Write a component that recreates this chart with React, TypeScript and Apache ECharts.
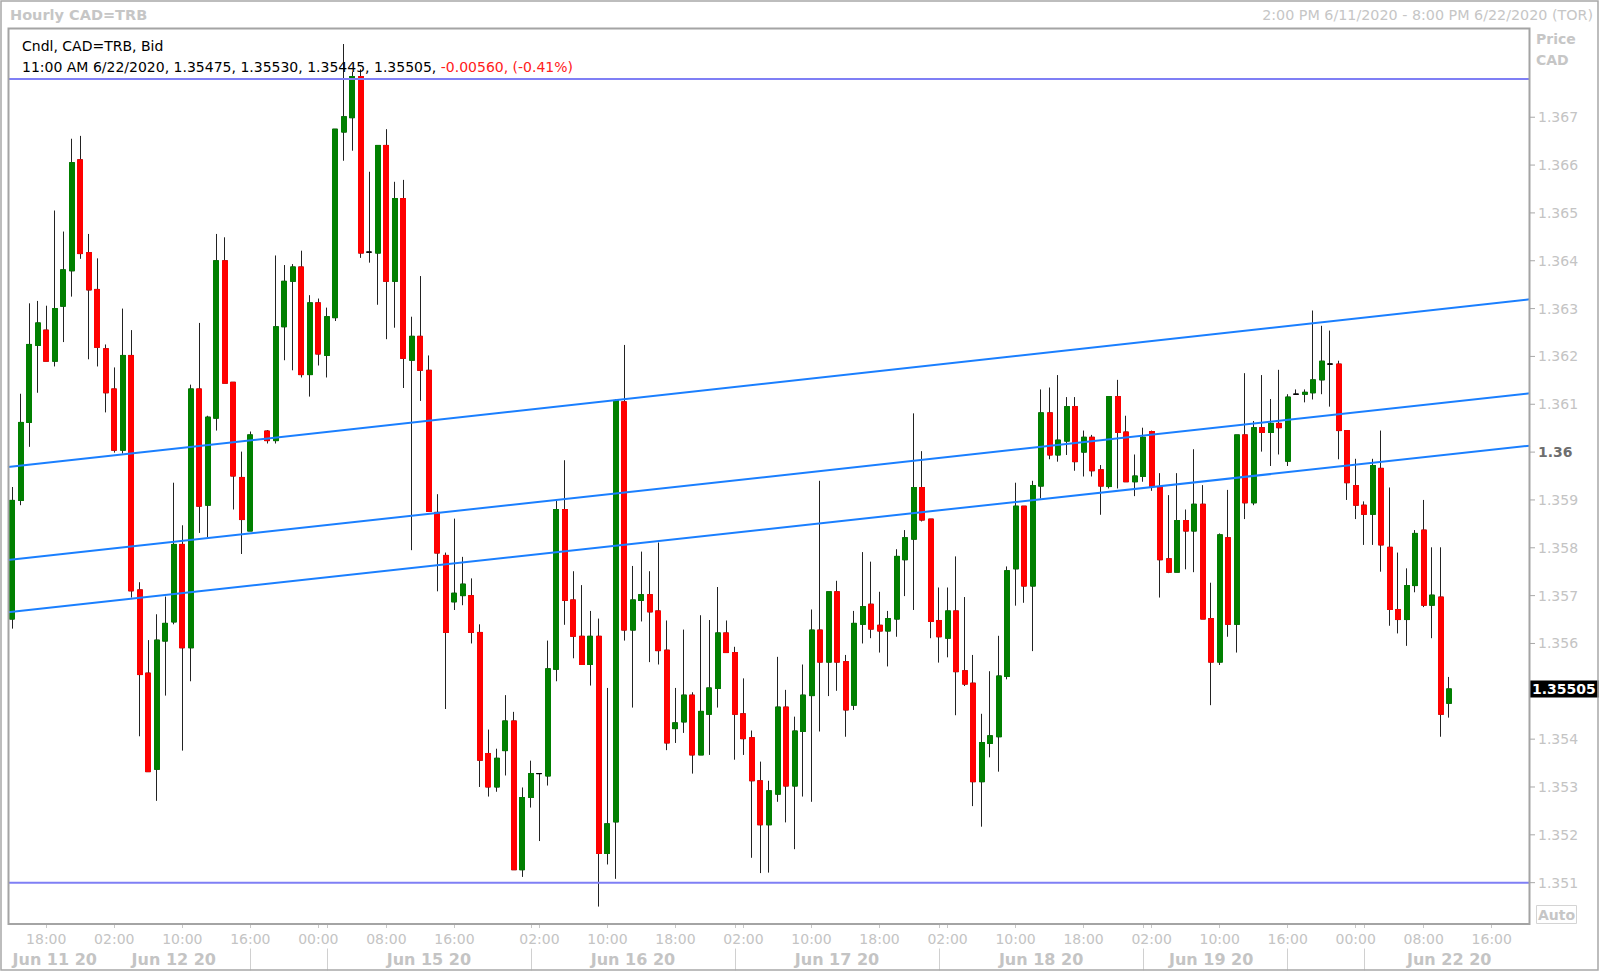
import React, { useEffect, useRef } from 'react';
import * as echarts from 'echarts';

const FONT = "'DejaVu Sans', Verdana, sans-serif";

// Hourly bars: [open, close, low, high]
const jun11Bars = [
  [1.35651, 1.35899, 1.35631, 1.35927],
  [1.35899, 1.36062, 1.35889, 1.36122],
  [1.36062, 1.36225, 1.36011, 1.36311],
  [1.36223, 1.3627, 1.36124, 1.36316],
  [1.36255, 1.3619, 1.3619, 1.36306],
  [1.3619, 1.363, 1.36179, 1.36505],
  [1.36305, 1.36381, 1.3623, 1.36461],
  [1.36379, 1.36605, 1.36325, 1.36655],
  [1.36611, 1.36415, 1.36404, 1.36661],
  [1.36417, 1.36339, 1.36194, 1.36456],
  [1.3634, 1.36219, 1.36179, 1.36405],
];
const jun12Bars = [
  [1.36216, 1.36124, 1.36083, 1.36225],
  [1.36132, 1.36004, 1.35999, 1.36177],
  [1.36004, 1.36202, 1.35997, 1.363],
  [1.36202, 1.3571, 1.35696, 1.36255],
  [1.35712, 1.35535, 1.35406, 1.35728],
  [1.35538, 1.35332, 1.35332, 1.35607],
  [1.35337, 1.35607, 1.35271, 1.35661],
  [1.35605, 1.35642, 1.35491, 1.35698],
  [1.35645, 1.35807, 1.3564, 1.35936],
  [1.35807, 1.35591, 1.35376, 1.35847],
  [1.35591, 1.36132, 1.35521, 1.36141],
  [1.36132, 1.35887, 1.35831, 1.3627],
  [1.35889, 1.36073, 1.35822, 1.36076],
  [1.36071, 1.364, 1.36045, 1.36456],
  [1.364, 1.36144, 1.36144, 1.36449],
  [1.36146, 1.3595, 1.3588, 1.36146],
  [1.35947, 1.35859, 1.35787, 1.36001],
  [1.35835, 1.36036, 1.35835, 1.36043],
];
const weekendGap = [null];
const jun14Bars = [
  [1.36044, 1.36024, 1.36018, 1.36046],
  [1.36024, 1.36262, 1.36018, 1.36411],
  [1.36262, 1.36357, 1.36192, 1.36391],
  [1.36357, 1.36387, 1.36171, 1.36393],
  [1.36387, 1.36162, 1.36156, 1.36421],
  [1.36162, 1.36312, 1.36116, 1.36328],
  [1.36312, 1.36205, 1.36181, 1.36321],
];
const jun15Bars = [
  [1.36202, 1.36283, 1.36156, 1.36302],
  [1.36281, 1.36675, 1.36274, 1.36675],
  [1.36669, 1.36701, 1.36609, 1.36853],
  [1.36699, 1.36785, 1.3663, 1.36795],
  [1.36785, 1.36416, 1.36406, 1.368],
  [1.36418, 1.36418, 1.36396, 1.36586],
  [1.36416, 1.36641, 1.36308, 1.36641],
  [1.36641, 1.36357, 1.36236, 1.36675],
  [1.36357, 1.3653, 1.3626, 1.36565],
  [1.3653, 1.36196, 1.36134, 1.36569],
  [1.36192, 1.36242, 1.35795, 1.36283],
  [1.36242, 1.36171, 1.36107, 1.36368],
  [1.36171, 1.35876, 1.35876, 1.36202],
  [1.35874, 1.35789, 1.35709, 1.35912],
  [1.35784, 1.35623, 1.35463, 1.3579],
  [1.35687, 1.35705, 1.3567, 1.35861],
  [1.357, 1.35724, 1.3568, 1.35781],
  [1.357, 1.35623, 1.356, 1.35736],
  [1.35623, 1.35356, 1.353, 1.3564],
  [1.3537, 1.353, 1.3528, 1.3542],
  [1.353, 1.3536, 1.3529, 1.3538],
  [1.35376, 1.35438, 1.35324, 1.35492],
  [1.35438, 1.35127, 1.35127, 1.35457],
  [1.35127, 1.35278, 1.35112, 1.35299],
];
const jun16Bars = [
  [1.35278, 1.35328, 1.35257, 1.35355],
  [1.35328, 1.35328, 1.35187, 1.35328],
  [1.35323, 1.35547, 1.35303, 1.35606],
  [1.35546, 1.3588, 1.35521, 1.35898],
  [1.3588, 1.3569, 1.35639, 1.35983],
  [1.35691, 1.35615, 1.35569, 1.35751],
  [1.35615, 1.35556, 1.35556, 1.35722],
  [1.35556, 1.35615, 1.35512, 1.35668],
  [1.35615, 1.35161, 1.3505, 1.35652],
  [1.35161, 1.35223, 1.35138, 1.35507],
  [1.35227, 1.36108, 1.35108, 1.3611],
  [1.36105, 1.35628, 1.35606, 1.36224],
  [1.35628, 1.35691, 1.35466, 1.35762],
  [1.3569, 1.35702, 1.35646, 1.35792],
  [1.35702, 1.35666, 1.35561, 1.35751],
  [1.35668, 1.35585, 1.35556, 1.35811],
  [1.35586, 1.35392, 1.35377, 1.35648],
  [1.35422, 1.35434, 1.35392, 1.35507],
  [1.35436, 1.35492, 1.35413, 1.35629],
  [1.35492, 1.35367, 1.35328, 1.35498],
  [1.35367, 1.35458, 1.35367, 1.35659],
  [1.35452, 1.35507, 1.35367, 1.35649],
  [1.35506, 1.35622, 1.35466, 1.35718],
  [1.35622, 1.35581, 1.35581, 1.35648],
];
const jun17Bars = [
  [1.35581, 1.35452, 1.35357, 1.35593],
  [1.35453, 1.35401, 1.35367, 1.35527],
  [1.35403, 1.35313, 1.35152, 1.35418],
  [1.35313, 1.35221, 1.3512, 1.35353],
  [1.35221, 1.35292, 1.35121, 1.35313],
  [1.35285, 1.35467, 1.35269, 1.35572],
  [1.35467, 1.35302, 1.35226, 1.35503],
  [1.35302, 1.35417, 1.3517, 1.35447],
  [1.35416, 1.35492, 1.3528, 1.35556],
  [1.35491, 1.35628, 1.35269, 1.35671],
  [1.35628, 1.35561, 1.35416, 1.3594],
  [1.35561, 1.35708, 1.3549, 1.35708],
  [1.35708, 1.35561, 1.35501, 1.35731],
  [1.35562, 1.35461, 1.35405, 1.35576],
  [1.35471, 1.35642, 1.35461, 1.35668],
  [1.3564, 1.35677, 1.356, 1.35791],
  [1.35682, 1.3563, 1.35611, 1.35771],
  [1.35638, 1.35626, 1.35581, 1.35708],
  [1.35626, 1.35652, 1.35552, 1.35668],
  [1.35651, 1.35782, 1.35614, 1.35797],
  [1.35775, 1.35821, 1.35699, 1.35837],
  [1.35818, 1.35926, 1.3567, 1.36081],
  [1.35926, 1.35858, 1.35855, 1.36002],
  [1.3586, 1.35646, 1.35611, 1.3586],
];
const jun18Bars = [
  [1.35648, 1.35614, 1.3556, 1.35717],
  [1.35611, 1.35668, 1.35571, 1.35717],
  [1.35668, 1.35541, 1.3545, 1.35782],
  [1.35543, 1.35515, 1.35511, 1.35697],
  [1.35517, 1.35311, 1.3526, 1.35576],
  [1.35311, 1.35393, 1.35217, 1.35453],
  [1.35391, 1.35407, 1.35362, 1.35542],
  [1.35405, 1.35532, 1.35332, 1.35616],
  [1.35531, 1.35752, 1.35525, 1.35761],
  [1.35756, 1.35887, 1.35679, 1.35936],
  [1.35887, 1.3572, 1.35685, 1.35887],
  [1.3572, 1.3593, 1.35584, 1.3594],
  [1.35929, 1.36082, 1.35903, 1.36131],
  [1.36082, 1.35994, 1.35985, 1.36135],
  [1.35994, 1.36025, 1.3598, 1.36161],
  [1.36023, 1.36095, 1.35994, 1.36115],
  [1.36095, 1.3598, 1.35961, 1.36115],
  [1.36, 1.36031, 1.35949, 1.36045],
  [1.36031, 1.35961, 1.35949, 1.36036],
  [1.35963, 1.35929, 1.35869, 1.35973],
  [1.35928, 1.36116, 1.35924, 1.36116],
  [1.36116, 1.36041, 1.35924, 1.36151],
  [1.36042, 1.35938, 1.35938, 1.36076],
  [1.35938, 1.3595, 1.35908, 1.35995],
];
const jun19Bars = [
  [1.35949, 1.36031, 1.35938, 1.36051],
  [1.36043, 1.35928, 1.35919, 1.36045],
  [1.35928, 1.35775, 1.35696, 1.35956],
  [1.35777, 1.35749, 1.35747, 1.3591],
  [1.35749, 1.35857, 1.35749, 1.35956],
  [1.35857, 1.35835, 1.35755, 1.3588],
  [1.35835, 1.35891, 1.35749, 1.36006],
  [1.35891, 1.35651, 1.35651, 1.35931],
  [1.35652, 1.35561, 1.35471, 1.35727],
  [1.35561, 1.35827, 1.35555, 1.3583],
  [1.35821, 1.3564, 1.35614, 1.35921],
  [1.3564, 1.36036, 1.35581, 1.36036],
  [1.36036, 1.35894, 1.3586, 1.36165],
  [1.35894, 1.36051, 1.35889, 1.36065],
  [1.36051, 1.36041, 1.36001, 1.36161],
  [1.36041, 1.3606, 1.35971, 1.36111],
  [1.3606, 1.36051, 1.35995, 1.36172],
];
const jun21Bars = [
  [1.35981, 1.36115, 1.35971, 1.36121],
  [1.36121, 1.36121, 1.36121, 1.36131],
  [1.36121, 1.36125, 1.36104, 1.36131],
  [1.36124, 1.36151, 1.3611, 1.36296],
  [1.36151, 1.3619, 1.36121, 1.36264],
  [1.36184, 1.36184, 1.36095, 1.36254],
  [1.36184, 1.36045, 1.35985, 1.36191],
  [1.36045, 1.35936, 1.359, 1.36045],
  [1.3593, 1.35889, 1.3586, 1.35986],
];
const jun22Bars = [
  [1.35889, 1.3587, 1.35806, 1.35897],
  [1.3587, 1.35972, 1.35806, 1.35986],
  [1.35966, 1.35806, 1.3575, 1.36045],
  [1.35801, 1.35671, 1.35637, 1.35926],
  [1.35671, 1.3565, 1.35621, 1.3579],
  [1.3565, 1.35721, 1.35595, 1.35757],
  [1.35721, 1.3583, 1.35707, 1.35837],
  [1.35837, 1.3568, 1.35676, 1.359],
  [1.3568, 1.35701, 1.35611, 1.35801],
  [1.35697, 1.35452, 1.35405, 1.35801],
  [1.35475, 1.35505, 1.35445, 1.3553],
];

// axis slots (hourly, 2:00 PM 6/11 .. 8:00 PM 6/22)
const slotCount = 179;
const timeLabelIdx = [4, 12, 20, 28, 36, 44, 52, 62, 70, 78, 86, 94, 102, 110, 118, 126, 134, 142, 150, 158, 166, 174];
const timeLabels = ['18:00', '02:00', '10:00', '16:00', '00:00', '08:00', '16:00', '02:00', '10:00', '18:00', '02:00', '10:00', '18:00', '02:00', '10:00', '18:00', '02:00', '10:00', '16:00', '00:00', '08:00', '16:00'];
const dateLabelIdx = [5, 19, 49, 73, 97, 121, 141, 169];
const dateLabels = ['Jun 11 20', 'Jun 12 20', 'Jun 15 20', 'Jun 16 20', 'Jun 17 20', 'Jun 18 20', 'Jun 19 20', 'Jun 22 20'];
const daySeparatorIdx = [28, 37, 61, 85, 109, 133, 150, 159];

// drawn lines: price at left edge, price at right edge
const trendUpper = [1.359687, 1.363194];
const trendMiddle = [1.357745, 1.36123];
const trendLower = [1.356654, 1.360135];
const resistanceLevel = 1.3678;
const supportLevel = 1.351;

// header
const lastBarTime = '11:00 AM 6/22/2020';
const netChange = '-0.00560';
const pctChange = '(-0.41%)';
const rangeText = '2:00 PM 6/11/2020 - 8:00 PM 6/22/2020 (TOR)';

const yMin = 1.35;
const yMax = 1.369;

export default function App() {
  const ref = useRef<HTMLDivElement>(null);

  useEffect(() => {
    if (!ref.current) return;
    const chart = echarts.init(ref.current, undefined, { renderer: 'svg' });

    const bars: (number[] | null)[] = [
      ...jun11Bars, ...jun12Bars, ...weekendGap, ...jun14Bars, ...jun15Bars,
      ...jun16Bars, ...jun17Bars, ...jun18Bars, ...jun19Bars, ...jun21Bars, ...jun22Bars,
    ];
    const categories = Array.from({ length: slotCount }, (_, i) => String(i));
    const empty = ['-', '-', '-', '-'];
    const wickData = bars.map((b) => (b ? b : empty));
    const bodyData = bars.map((b) => (b ? [b[0], b[1], Math.min(b[0], b[1]), Math.max(b[0], b[1])] : empty));
    const last = jun22Bars[jun22Bars.length - 1];
    const lastClose = last[1];

    const timeMap = new Map<number, string>();
    timeLabelIdx.forEach((i, k) => timeMap.set(i, timeLabels[k]));
    const dateMap = new Map<number, string>();
    dateLabelIdx.forEach((i, k) => dateMap.set(i, dateLabels[k]));
    const smallTicks = new Set<number>([...timeLabelIdx, ...daySeparatorIdx]);
    const sepSet = new Set<number>(daySeparatorIdx);

    const edge = [-0.5, slotCount - 0.5];
    const lineSeries = (vals: number[], color: string) => ({
      type: 'line',
      xAxisIndex: 2,
      yAxisIndex: 0,
      data: [[edge[0], vals[0]], [edge[1], vals[1]]],
      symbol: 'none',
      silent: true,
      z: 5,
      lineStyle: { color, width: 2 },
    });

    const fmt = (v: number) => {
      const t = Math.round(v * 1000);
      return String(t / 1000);
    };

    const option: any = {
      animation: false,
      backgroundColor: '#ffffff',
      textStyle: { fontFamily: FONT },
      grid: { left: 8, right: 70, top: 21.54, bottom: 41.5 },
      xAxis: [
        {
          type: 'category',
          data: categories,
          boundaryGap: true,
          offset: -6.5,
          axisLine: { show: false },
          axisTick: {
            show: true,
            alignWithLabel: true,
            length: 4,
            interval: (i: number) => smallTicks.has(i),
            lineStyle: { color: '#c8c8c8' },
          },
          axisLabel: {
            interval: (i: number) => timeMap.has(i),
            formatter: (_v: string, i: number) => timeMap.get(i) ?? '',
            color: '#c4c4c4',
            fontSize: 14,
            fontFamily: FONT,
            margin: 8,
          },
          splitLine: { show: false },
        },
        {
          type: 'category',
          data: categories,
          boundaryGap: true,
          position: 'bottom',
          offset: 18,
          axisLine: { show: false },
          axisTick: {
            show: true,
            alignWithLabel: true,
            length: 22,
            interval: (i: number) => sepSet.has(i),
            lineStyle: { color: '#d0d0d0' },
          },
          axisLabel: {
            interval: (i: number) => dateMap.has(i),
            formatter: (_v: string, i: number) => dateMap.get(i) ?? '',
            color: '#c4c4c4',
            fontSize: 16,
            fontWeight: 'bold',
            fontFamily: FONT,
            margin: 3,
          },
          splitLine: { show: false },
        },
        { type: 'value', min: edge[0], max: edge[1], show: false },
      ],
      yAxis: {
        type: 'value',
        position: 'right',
        min: yMin,
        max: yMax,
        interval: 0.001,
        axisLine: { show: false },
        axisTick: { show: false },
        splitLine: { show: false },
        axisLabel: {
          margin: 0,
          formatter: (v: number) => {
            if (v < 1.3505 || v > 1.3675) return '';
            // the last-price tag covers the tick label next to it
            if (Math.abs(v - lastClose) < 0.0003) return '';
            const s = fmt(v);
            if (Math.round(v * 1000) === 1360) return `{t|}{b|${s}}`;
            return `{t|}{n|${s}}`;
          },
          rich: {
            t: { width: 5, height: 1, backgroundColor: '#a8a8a8', verticalAlign: 'middle' },
            n: { color: '#c4c4c4', fontSize: 14, fontFamily: FONT, padding: [0, 0, 0, 3], verticalAlign: 'middle' },
            b: { color: '#6e6e6e', fontSize: 14, fontWeight: 'bold', fontFamily: FONT, padding: [0, 0, 0, 3], verticalAlign: 'middle' },
          },
        },
      },
      series: [
        {
          name: 'wicks',
          type: 'candlestick',
          xAxisIndex: 0,
          yAxisIndex: 0,
          data: wickData,
          barWidth: 5.5,
          silent: true,
          z: 2,
          itemStyle: {
            color: '#222', color0: '#222', borderColor: '#222', borderColor0: '#222', borderColorDoji: '#222', borderWidth: 1,
          },
        },
        {
          name: 'CAD=TRB',
          type: 'candlestick',
          xAxisIndex: 0,
          yAxisIndex: 0,
          data: bodyData,
          barWidth: 5.5,
          silent: true,
          z: 3,
          itemStyle: {
            color: '#008000', color0: '#ff0000', borderColor: '#008000', borderColor0: '#ff0000', borderColorDoji: '#000', borderWidth: 1,
          },
        },
        {
          name: 'lastPrice',
          type: 'line',
          xAxisIndex: 2,
          yAxisIndex: 0,
          data: [[edge[0], lastClose], [edge[1], lastClose]],
          symbol: 'none',
          silent: true,
          z: 6,
          lineStyle: { color: 'rgba(0,0,0,0)', width: 0 },
          endLabel: {
            show: true,
            formatter: () => lastClose.toFixed(5),
            distance: 0,
            color: '#ffffff',
            backgroundColor: '#000000',
            fontWeight: 'bold',
            fontSize: 14,
            fontFamily: FONT,
            padding: [2, 3, 1, 2],
          },
        },
        lineSeries(trendUpper, '#1a7fff'),
        lineSeries(trendMiddle, '#1a7fff'),
        lineSeries(trendLower, '#1a7fff'),
        lineSeries([resistanceLevel, resistanceLevel], '#7f7ff5'),
        lineSeries([supportLevel, supportLevel], '#7f7ff5'),
      ],
      graphic: [
        { type: 'rect', shape: { x: 1, y: 1, width: 1597, height: 969 }, style: { fill: 'none', stroke: '#a8a8a8', lineWidth: 1.5 }, silent: true, z: 10 },
        { type: 'rect', shape: { x: 8.5, y: 28.5, width: 1521, height: 895.5 }, style: { fill: 'none', stroke: '#a4a4a4', lineWidth: 2 }, silent: true, z: 10 },
        { type: 'text', x: 10, y: 15, style: { text: 'Hourly CAD=TRB', font: `bold 14.5px ${FONT}`, fill: '#c6c6c6', textVerticalAlign: 'middle' }, silent: true, z: 10 },
        { type: 'text', x: 1593, y: 15, style: { text: rangeText, font: `14.3px ${FONT}`, fill: '#c6c6c6', textAlign: 'right', textVerticalAlign: 'middle' }, silent: true, z: 10 },
        { type: 'text', x: 22, y: 46, style: { text: 'Cndl, CAD=TRB, Bid', font: `14px ${FONT}`, fill: '#000', textVerticalAlign: 'middle' }, silent: true, z: 10 },
        {
          type: 'text', x: 22, y: 67, silent: true, z: 10,
          style: {
            text: `{k|${lastBarTime}, ${last[0].toFixed(5)}, ${last[3].toFixed(5)}, ${last[2].toFixed(5)}, ${last[1].toFixed(5)}, }{r|${netChange}, ${pctChange}}`,
            font: `14px ${FONT}`,
            textVerticalAlign: 'middle',
            rich: {
              k: { fill: '#000', fontSize: 14, fontFamily: FONT },
              r: { fill: '#ff2020', fontSize: 14, fontFamily: FONT },
            },
          },
        },
        { type: 'text', x: 1536, y: 38.5, style: { text: 'Price', font: `bold 14px ${FONT}`, fill: '#c6c6c6', textVerticalAlign: 'middle' }, silent: true, z: 10 },
        { type: 'text', x: 1536, y: 60, style: { text: 'CAD', font: `bold 14px ${FONT}`, fill: '#c6c6c6', textVerticalAlign: 'middle' }, silent: true, z: 10 },
        { type: 'rect', shape: { x: 1536.5, y: 905.5, width: 40, height: 18 }, style: { fill: '#fff', stroke: '#d4d4d4', lineWidth: 1 }, silent: true, z: 10 },
        { type: 'text', x: 1556.5, y: 915, style: { text: 'Auto', font: `bold 14px ${FONT}`, fill: '#c6c6c6', textAlign: 'center', textVerticalAlign: 'middle' }, silent: true, z: 11 },
      ],
    };

    chart.setOption(option);
    return () => chart.dispose();
  }, []);

  return <div ref={ref} style={{ position: 'absolute', left: 0, top: 0, width: 1600, height: 972, background: '#fff' }} />;
}
